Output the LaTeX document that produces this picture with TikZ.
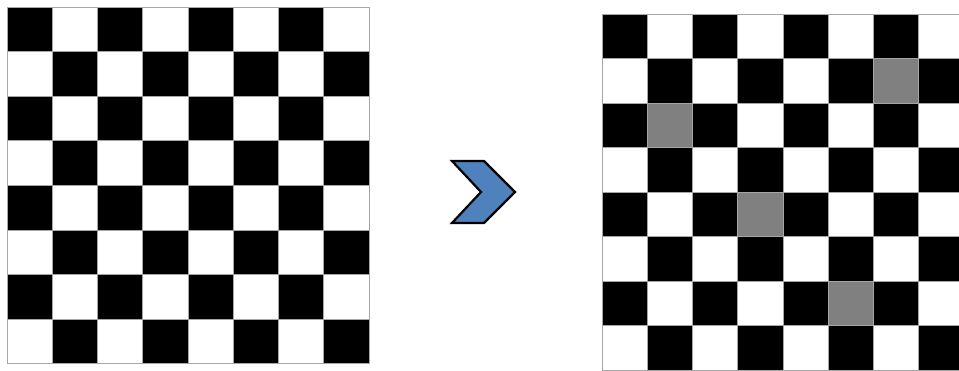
\documentclass[tikz,border=0pt]{standalone}
\begin{document}
\begin{tikzpicture}[x=1pt,y=-1pt,
  gridline/.style={draw=gray!70,line width=0.6pt},
  blackcell/.style={fill=black},
  graycell/.style={fill=gray},
  chevron/.style={draw=black, line width=2.2pt, line join=miter}]
\definecolor{chev}{RGB}{79,129,189}
\useasboundingbox (0,0) rectangle (959,371);
\clip (0,0) rectangle (959,371);
\fill[white] (0,0) rectangle (959,371);
% left board
\foreach \r in {0,...,7}{
  \foreach \c in {0,...,7}{
    \pgfmathtruncatemacro{\cellpar}{mod(\r+\c,2)}
    \ifnum\cellpar=0
      \fill[blackcell] ({7+\c*45.25},{7+\r*44.6}) rectangle ++(45.25,44.6);
    \fi
  }
}
\foreach \i in {0,...,8}{
  \draw[gridline] ({7+\i*45.25},7) -- ({7+\i*45.25},363.8);
  \draw[gridline] (7,{7+\i*44.6}) -- (369,{7+\i*44.6});
}
% right board
\foreach \r in {0,...,7}{
  \foreach \c in {0,...,7}{
    \pgfmathtruncatemacro{\cellpar}{mod(\r+\c,2)}
    \ifnum\cellpar=0
      \fill[blackcell] ({602+\c*45.2},{14+\r*44.5}) rectangle ++(45.2,44.5);
    \fi
  }
}
\foreach \r/\c in {1/6,2/1,4/3,6/5}{
  \fill[graycell] ({602+\c*45.2},{14+\r*44.5}) rectangle ++(45.2,44.5);
}
\foreach \i in {0,...,8}{
  \draw[gridline] ({602+\i*45.2},14) -- ({602+\i*45.2},370);
  \draw[gridline] (602,{14+\i*44.5}) -- (964,{14+\i*44.5});
}
% chevron arrow
\draw[chevron, fill=chev] (452,161) -- (484,161) -- (515,192) -- (484,223) -- (452,223) -- (481,192) -- cycle;
\end{tikzpicture}
\end{document}
